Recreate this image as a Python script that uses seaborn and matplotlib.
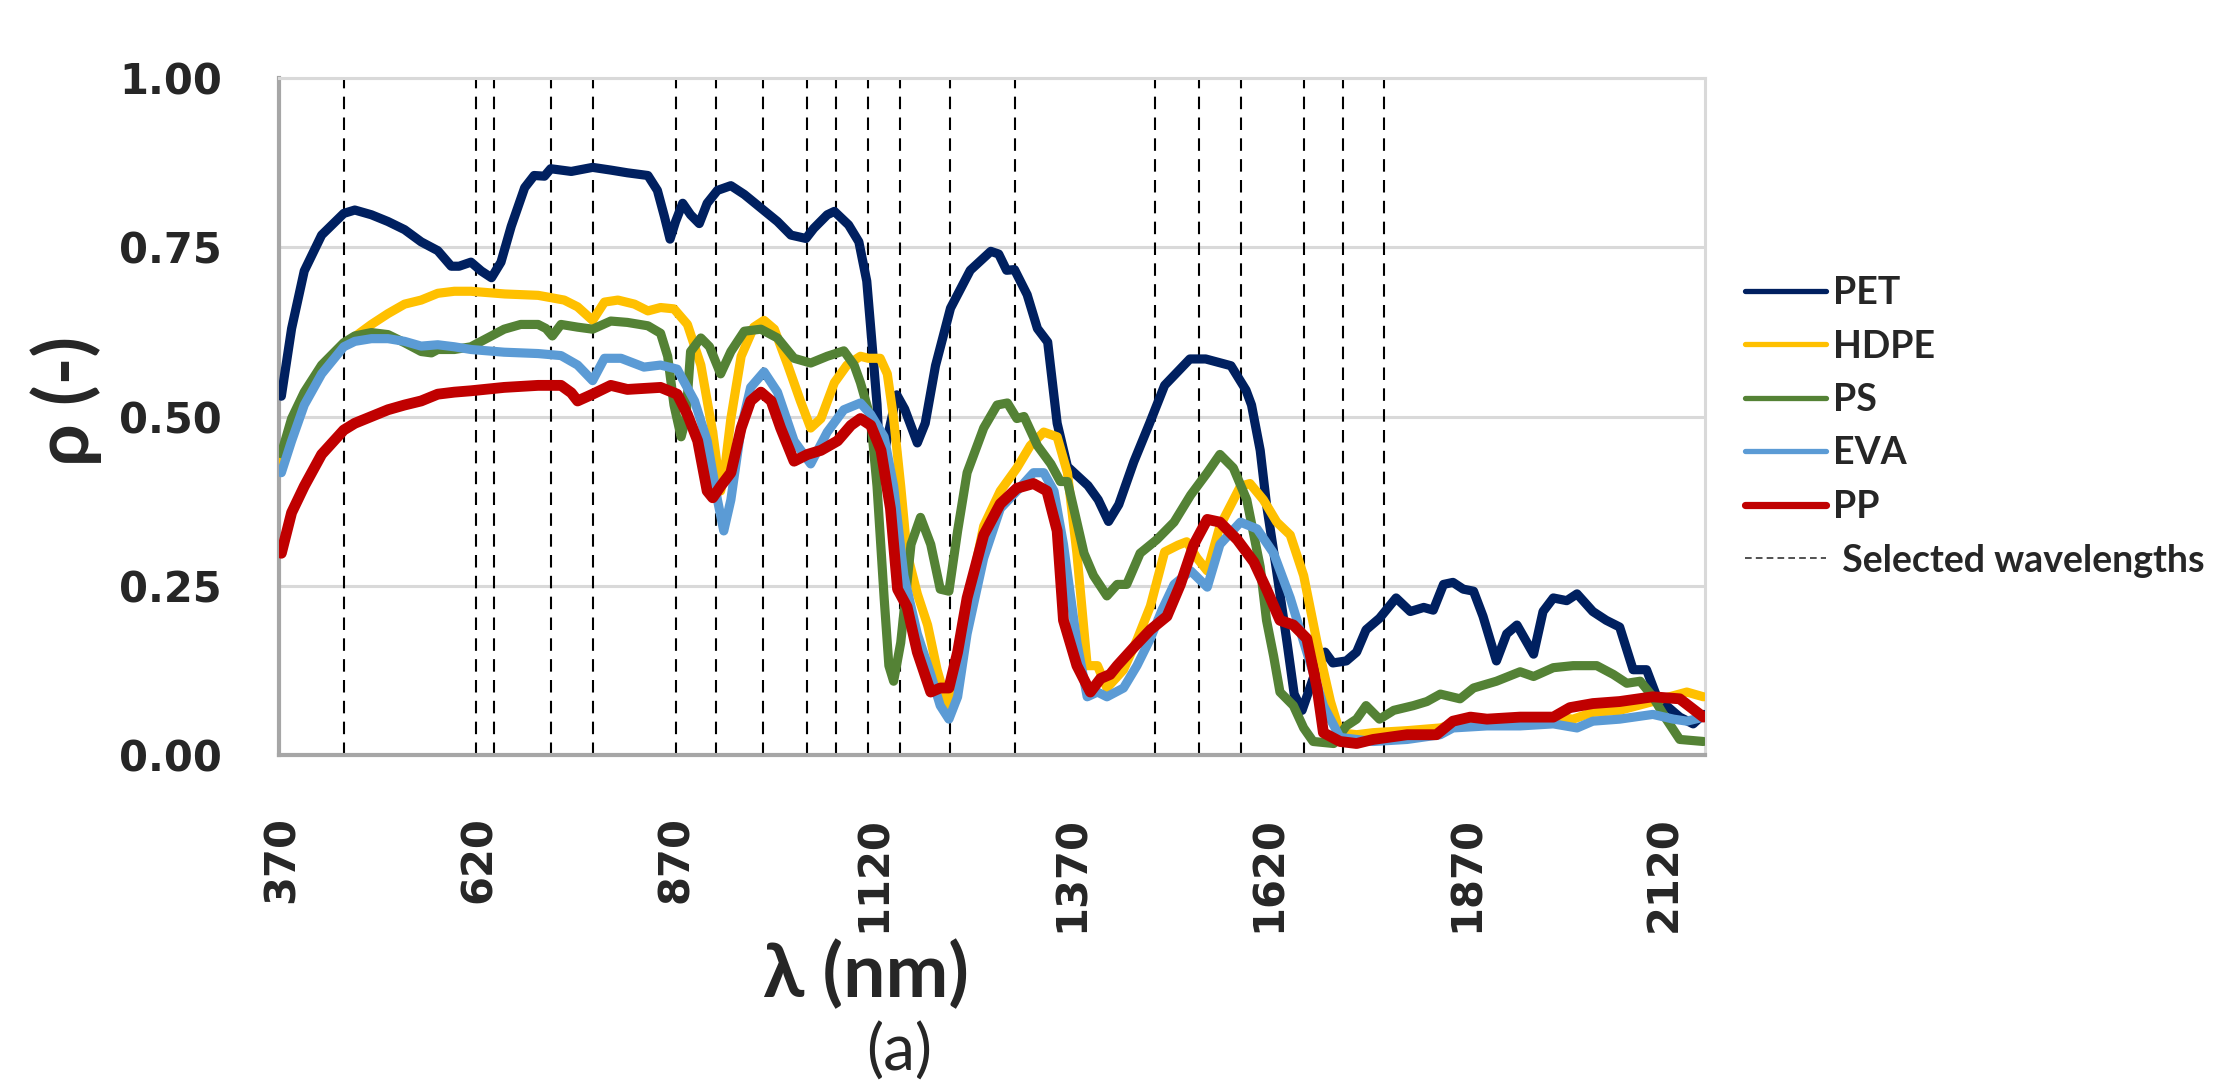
import pandas as pd
import matplotlib
matplotlib.use("Agg")
import matplotlib.pyplot as plt
from matplotlib.lines import Line2D
import seaborn as sns

# reflectance spectra: (wavelength nm, rho)
pet = [(370, 0.53), (383, 0.63), (399, 0.715), (421, 0.768), (449, 0.800), (463, 0.805), (484, 0.798),
       (505, 0.788), (526, 0.776), (547, 0.758), (568, 0.745), (585, 0.722), (595, 0.722), (610, 0.728),
       (623, 0.715), (636, 0.705), (648, 0.728), (661, 0.781), (678, 0.838), (690, 0.856), (703, 0.855),
       (711, 0.866), (737, 0.862), (764, 0.868), (787, 0.864), (808, 0.860), (834, 0.856), (846, 0.834),
       (855, 0.795), (862, 0.762), (869, 0.788), (878, 0.815), (888, 0.798), (899, 0.785), (909, 0.815),
       (922, 0.834), (939, 0.841), (956, 0.828), (977, 0.808), (998, 0.788), (1015, 0.768), (1034, 0.763),
       (1044, 0.778), (1061, 0.798), (1070, 0.803), (1088, 0.783), (1101, 0.758), (1111, 0.700),
       (1117, 0.617), (1124, 0.518), (1128, 0.420), (1149, 0.532), (1159, 0.511), (1175, 0.461),
       (1185, 0.490), (1198, 0.575), (1217, 0.660), (1242, 0.716), (1268, 0.744), (1278, 0.740),
       (1288, 0.716), (1298, 0.717), (1314, 0.680), (1327, 0.630), (1340, 0.610), (1352, 0.490),
       (1365, 0.426), (1391, 0.398), (1404, 0.377), (1417, 0.345), (1430, 0.370), (1449, 0.433),
       (1469, 0.490), (1488, 0.546), (1520, 0.585), (1540, 0.585), (1572, 0.575), (1591, 0.539),
       (1598, 0.517), (1609, 0.450), (1617, 0.370), (1630, 0.270), (1643, 0.166), (1652, 0.090),
       (1662, 0.066), (1676, 0.113), (1691, 0.152), (1701, 0.136), (1718, 0.139), (1731, 0.152),
       (1743, 0.185), (1760, 0.202), (1781, 0.232), (1799, 0.212), (1816, 0.218), (1828, 0.214),
       (1841, 0.252), (1853, 0.255), (1866, 0.245), (1879, 0.242), (1891, 0.205), (1908, 0.139),
       (1921, 0.179), (1934, 0.192), (1955, 0.149), (1967, 0.212), (1980, 0.232), (1997, 0.228),
       (2010, 0.238), (2030, 0.212), (2047, 0.199), (2064, 0.189), (2081, 0.126), (2098, 0.126),
       (2111, 0.086), (2123, 0.073), (2140, 0.056), (2157, 0.046), (2170, 0.060)]

hdpe = [(370, 0.43), (383, 0.48), (399, 0.525), (421, 0.565), (449, 0.606), (484, 0.636), (505, 0.652),
        (526, 0.666), (547, 0.672), (568, 0.682), (589, 0.685), (610, 0.685), (653, 0.681), (695, 0.679),
        (728, 0.672), (745, 0.662), (764, 0.642), (779, 0.669), (796, 0.672), (817, 0.666), (834, 0.656),
        (850, 0.661), (867, 0.659), (884, 0.636), (901, 0.576), (916, 0.477), (926, 0.390), (930, 0.410),
        (939, 0.497), (952, 0.589), (968, 0.632), (981, 0.642), (994, 0.629), (1011, 0.576), (1027, 0.523),
        (1040, 0.483), (1053, 0.497), (1070, 0.550), (1086, 0.576), (1103, 0.589), (1113, 0.586),
        (1128, 0.586), (1137, 0.563), (1145, 0.497), (1154, 0.397), (1162, 0.298), (1175, 0.238),
        (1188, 0.192), (1200, 0.126), (1213, 0.073), (1221, 0.099), (1238, 0.219), (1259, 0.338),
        (1280, 0.390), (1301, 0.424), (1318, 0.457), (1335, 0.477), (1352, 0.470), (1365, 0.417),
        (1377, 0.298), (1390, 0.132), (1403, 0.132), (1415, 0.099), (1436, 0.126), (1453, 0.170),
        (1470, 0.220), (1488, 0.300), (1505, 0.310), (1516, 0.315), (1529, 0.291), (1542, 0.272),
        (1558, 0.338), (1584, 0.397), (1596, 0.401), (1613, 0.377), (1630, 0.344), (1647, 0.325),
        (1664, 0.265), (1681, 0.166), (1698, 0.079), (1710, 0.033), (1731, 0.030), (1752, 0.033),
        (1795, 0.036), (1837, 0.040), (1853, 0.046), (1896, 0.050), (1938, 0.053), (1980, 0.056),
        (2005, 0.053), (2030, 0.063), (2064, 0.066), (2106, 0.079), (2127, 0.086), (2149, 0.093),
        (2170, 0.086)]

ps = [(370, 0.445), (383, 0.497), (399, 0.536), (421, 0.576), (449, 0.609), (463, 0.619), (484, 0.624),
      (505, 0.621), (526, 0.609), (547, 0.596), (560, 0.594), (568, 0.599), (589, 0.599), (610, 0.603),
      (631, 0.616), (652, 0.629), (673, 0.636), (695, 0.636), (705, 0.630), (713, 0.619), (724, 0.636),
      (745, 0.632), (764, 0.629), (787, 0.641), (808, 0.639), (834, 0.634), (850, 0.623), (859, 0.589),
      (867, 0.517), (876, 0.470), (882, 0.497), (888, 0.596), (901, 0.616), (912, 0.603), (926, 0.563),
      (939, 0.596), (956, 0.626), (977, 0.629), (998, 0.616), (1019, 0.586), (1040, 0.579), (1061, 0.589),
      (1082, 0.597), (1095, 0.576), (1103, 0.550), (1116, 0.497), (1124, 0.397), (1133, 0.232),
      (1139, 0.132), (1145, 0.109), (1154, 0.166), (1167, 0.311), (1179, 0.351), (1192, 0.311),
      (1204, 0.245), (1215, 0.242), (1226, 0.331), (1238, 0.417), (1259, 0.483), (1276, 0.517),
      (1289, 0.520), (1301, 0.497), (1310, 0.500), (1327, 0.457), (1344, 0.430), (1356, 0.404),
      (1365, 0.404), (1373, 0.364), (1386, 0.298), (1398, 0.265), (1415, 0.235), (1428, 0.252),
      (1440, 0.252), (1457, 0.298), (1478, 0.318), (1500, 0.344), (1521, 0.384), (1542, 0.417),
      (1558, 0.444), (1575, 0.424), (1592, 0.377), (1609, 0.278), (1617, 0.199), (1626, 0.146),
      (1634, 0.093), (1651, 0.073), (1664, 0.040), (1676, 0.020), (1702, 0.017), (1718, 0.043),
      (1731, 0.053), (1743, 0.073), (1760, 0.053), (1778, 0.066), (1803, 0.073), (1820, 0.079),
      (1837, 0.090), (1862, 0.083), (1879, 0.099), (1908, 0.109), (1938, 0.123), (1955, 0.116),
      (1980, 0.129), (2005, 0.132), (2035, 0.132), (2056, 0.119), (2073, 0.106), (2090, 0.109),
      (2106, 0.086), (2123, 0.053), (2140, 0.023), (2170, 0.020)]

eva = [(370, 0.417), (383, 0.464), (399, 0.517), (421, 0.563), (449, 0.603), (463, 0.611), (484, 0.615),
       (505, 0.615), (526, 0.611), (547, 0.604), (568, 0.606), (589, 0.603), (610, 0.599), (652, 0.595),
       (695, 0.593), (724, 0.590), (745, 0.576), (764, 0.553), (779, 0.586), (800, 0.586), (829, 0.573),
       (850, 0.576), (871, 0.570), (893, 0.523), (909, 0.464), (922, 0.377), (930, 0.331), (939, 0.377),
       (952, 0.483), (964, 0.543), (981, 0.566), (998, 0.536), (1019, 0.464), (1040, 0.430), (1061, 0.477),
       (1082, 0.510), (1103, 0.520), (1116, 0.503), (1133, 0.470), (1145, 0.397), (1158, 0.265),
       (1175, 0.179), (1192, 0.119), (1204, 0.073), (1215, 0.053), (1226, 0.086), (1238, 0.179),
       (1259, 0.291), (1280, 0.364), (1301, 0.390), (1322, 0.417), (1335, 0.417), (1348, 0.390),
       (1360, 0.311), (1377, 0.166), (1390, 0.086), (1403, 0.093), (1415, 0.086), (1436, 0.099),
       (1453, 0.132), (1470, 0.172), (1485, 0.215), (1500, 0.252), (1521, 0.272), (1542, 0.248),
       (1558, 0.311), (1584, 0.344), (1605, 0.334), (1626, 0.298), (1647, 0.232), (1668, 0.152),
       (1689, 0.073), (1710, 0.026), (1752, 0.020), (1795, 0.023), (1837, 0.030), (1853, 0.040),
       (1896, 0.043), (1938, 0.043), (1980, 0.046), (2010, 0.040), (2030, 0.050), (2064, 0.053),
       (2106, 0.060), (2132, 0.053), (2149, 0.050), (2170, 0.056)]

pp = [(370, 0.298), (383, 0.358), (399, 0.397), (421, 0.444), (449, 0.480), (463, 0.490), (484, 0.500),
      (505, 0.510), (526, 0.517), (547, 0.523), (568, 0.533), (589, 0.536), (610, 0.538), (652, 0.543),
      (695, 0.546), (724, 0.546), (737, 0.535), (745, 0.523), (764, 0.533), (787, 0.546), (808, 0.540),
      (850, 0.543), (871, 0.533), (884, 0.503), (897, 0.464), (909, 0.390), (916, 0.380), (926, 0.397),
      (939, 0.417), (952, 0.483), (964, 0.523), (977, 0.536), (990, 0.523), (1002, 0.483), (1019, 0.434),
      (1036, 0.444), (1053, 0.450), (1074, 0.464), (1091, 0.487), (1103, 0.497), (1116, 0.487),
      (1129, 0.450), (1141, 0.364), (1150, 0.245), (1162, 0.219), (1175, 0.152), (1192, 0.093),
      (1204, 0.099), (1215, 0.099), (1226, 0.152), (1238, 0.232), (1259, 0.325), (1280, 0.371),
      (1301, 0.394), (1322, 0.401), (1339, 0.390), (1352, 0.331), (1360, 0.199), (1377, 0.132),
      (1394, 0.093), (1407, 0.113), (1419, 0.119), (1428, 0.132), (1449, 0.159), (1470, 0.185),
      (1491, 0.205), (1508, 0.252), (1525, 0.311), (1542, 0.348), (1558, 0.344), (1580, 0.318),
      (1601, 0.285), (1617, 0.245), (1634, 0.199), (1651, 0.192), (1668, 0.172), (1681, 0.099),
      (1689, 0.033), (1710, 0.020), (1731, 0.017), (1752, 0.023), (1795, 0.030), (1832, 0.030),
      (1853, 0.050), (1875, 0.056), (1896, 0.053), (1938, 0.056), (1980, 0.056), (2001, 0.070),
      (2030, 0.076), (2064, 0.079), (2106, 0.086), (2140, 0.083), (2170, 0.056)]

selected_nm = [449, 617, 639, 711, 765, 869, 920, 980, 1035, 1072, 1113, 1153, 1216, 1299,
               1476, 1532, 1585, 1664, 1714, 1766]

x_ticks = [370, 620, 870, 1120, 1370, 1620, 1870, 2120]
y_ticks = [0.0, 0.25, 0.50, 0.75, 1.00]

polymers = ["PET", "HDPE", "PS", "EVA", "PP"]
spectra = {"PET": pet, "HDPE": hdpe, "PS": ps, "EVA": eva, "PP": pp}
colors = {"PET": "#002060", "HDPE": "#FFC000", "PS": "#548235", "EVA": "#5B9BD5", "PP": "#C00000"}
widths = {"PET": 6.6, "HDPE": 6.6, "PS": 6.6, "EVA": 6.6, "PP": 7.8}

frames = []
for p in polymers:
    d = pd.DataFrame(spectra[p], columns=["wavelength", "rho"])
    d["polymer"] = p
    frames.append(d)
df = pd.concat(frames, ignore_index=True)

sns.set_style("white")
plt.rcParams["font.family"] = ["Lato", "DejaVu Sans"]

fig = plt.figure(figsize=(22.14, 10.82), dpi=100)
ax = fig.add_axes([0.1260, 0.3022, 0.6441, 0.6257])

# selected wavelengths
for w in selected_nm:
    ax.axvline(w, color="black", lw=1.5, ls=(0, (6, 4)), zorder=1)

for p in polymers:
    sns.lineplot(data=df[df["polymer"] == p], x="wavelength", y="rho", color=colors[p],
                 lw=widths[p], ax=ax, legend=False, zorder=3, estimator=None)

ax.set_xlim(367, 2172)
ax.set_ylim(0, 1)
ax.set_xticks(x_ticks)
ax.set_xticklabels([str(t) for t in x_ticks], rotation=90)
ax.set_yticks(y_ticks)
ax.set_yticklabels([f"{v:.2f}" for v in y_ticks])
for lab in ax.get_xticklabels() + ax.get_yticklabels():
    lab.set_fontfamily("DejaVu Sans")
    lab.set_fontweight("bold")
    lab.set_fontsize(30)
ax.tick_params(axis="y", length=0, pad=41)
ax.tick_params(axis="x", length=0, pad=44)
ax.set_xlabel("")
ax.set_ylabel("")

ax.yaxis.grid(True, color="#D9D9D9", lw=2.2)
ax.xaxis.grid(False)
ax.set_axisbelow(True)
for s in ["left", "bottom"]:
    ax.spines[s].set_color("#A6A6A6")
    ax.spines[s].set_linewidth(3)
for s in ["top", "right"]:
    ax.spines[s].set_color("#D9D9D9")
    ax.spines[s].set_linewidth(2.2)

# legend
handles = [Line2D([], [], color=colors[p], lw=3.8 if p != "PP" else 5.2, solid_capstyle="round")
           for p in polymers]
handles.append(Line2D([], [], color="#333333", lw=1.2, ls=(0, (4, 2.5))))
labels = polymers + [" Selected wavelengths"]
fig.legend(handles, labels, loc="upper left", bbox_to_anchor=(1745 / 2214, 1 - 276 / 1082),
           frameon=False, prop={"weight": "bold", "size": 27}, handlelength=2.15,
           handletextpad=0.2, labelspacing=0.52, borderpad=0, borderaxespad=0)

fig.text(66 / 2214, 1 - 401 / 1082, "\u03c1 (-)", rotation=90, ha="center", va="center",
         fontsize=54, fontweight="bold")
fig.text(866 / 2214, 1 - 975 / 1082, "\u03bb (nm)", ha="center", va="center",
         fontsize=54, fontweight="bold")
fig.text(899 / 2214, 1 - 1052 / 1082, "(a)", ha="center", va="center", fontsize=46)

fig.savefig("out.png", dpi=100)
